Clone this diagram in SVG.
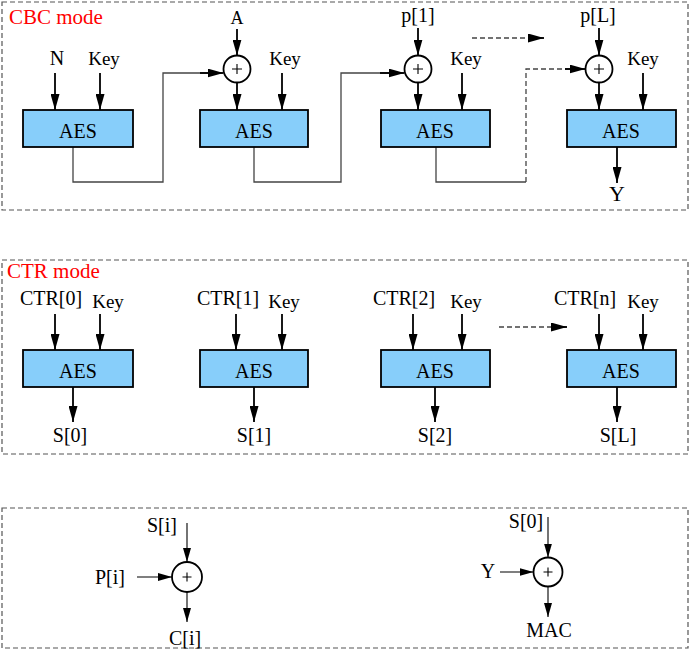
<svg xmlns="http://www.w3.org/2000/svg" width="691" height="660" viewBox="0 0 691 660">
<style>
text{font-family:"Liberation Serif","Times New Roman",serif;font-size:20px;fill:#000;text-anchor:middle}
.title{fill:#ff0000;text-anchor:start;font-size:21px}
.key{font-size:19px}
.frame{fill:none;stroke:#555;stroke-width:1.2;stroke-dasharray:5,3}
.aes{fill:#87cefa;stroke:#000;stroke-width:1.8}
.arr{fill:none;stroke:#000;stroke-width:1.8;marker-end:url(#ah)}
.arr2{fill:none;stroke:#000;stroke-width:1.1;marker-end:url(#ah2)}
.fb{fill:none;stroke:#444;stroke-width:1.3}
.fbd{fill:none;stroke:#444;stroke-width:1.3;stroke-dasharray:5,3}
.xor{fill:#fff;stroke:#000;stroke-width:1.8}
.plus{stroke:#000;stroke-width:1.1;fill:none}
</style>
<defs>
<marker id="ah" markerUnits="userSpaceOnUse" markerWidth="16" markerHeight="9" refX="16" refY="4.5" orient="auto"><path d="M0,0 L16,4.5 L0,9 z" fill="#000"/></marker>
<marker id="ah2" markerUnits="userSpaceOnUse" markerWidth="14" markerHeight="8" refX="14" refY="4" orient="auto"><path d="M0,0 L14,4 L0,8 z" fill="#000"/></marker>
</defs>

<g id="frames">
<rect class="frame" x="2" y="2" width="686" height="208"/>
<rect class="frame" x="2" y="260" width="686" height="194"/>
<rect class="frame" x="2" y="508" width="686" height="140"/>
<text class="title" x="9" y="24">CBC mode</text>
<text class="title" x="7" y="278">CTR mode</text>
</g>

<g id="connectors">
<!-- CBC -->
<line class="arr" x1="55" y1="73" x2="55" y2="110"/>
<line class="arr" x1="100" y1="73" x2="100" y2="110"/>
<polyline class="fb" points="73,147 73,182 163,182 163,73 210,73"/>
<line class="arr" x1="200" y1="73" x2="223.5" y2="73"/>
<line class="arr" x1="237" y1="29" x2="237" y2="55.5"/>
<line class="arr" x1="237" y1="82.5" x2="237" y2="110"/>
<line class="arr" x1="282" y1="73" x2="282" y2="110"/>
<polyline class="fb" points="254,147 254,182 341,182 341,73 390,73"/>
<line class="arr" x1="380" y1="73" x2="404.5" y2="73"/>
<line class="arr" x1="418" y1="28" x2="418" y2="55.5"/>
<line class="arr" x1="418" y1="82.5" x2="418" y2="110"/>
<line class="arr" x1="462" y1="73" x2="462" y2="110"/>
<polyline class="fb" points="436,147 436,182 526,182"/>
<polyline class="fbd" points="526,182 526,69 570,69"/>
<line class="arr" x1="565" y1="69" x2="585.5" y2="69"/>
<line class="fbd" x1="472" y1="38" x2="530" y2="38"/>
<line class="arr" x1="528" y1="38" x2="544" y2="38"/>
<line class="arr" x1="599" y1="28" x2="599" y2="55.5"/>
<line class="arr" x1="599" y1="82.5" x2="599" y2="110"/>
<line class="arr" x1="643" y1="73" x2="643" y2="110"/>
<line class="arr" x1="617" y1="147" x2="617" y2="183"/>
<!-- CTR -->
<line class="arr" x1="55" y1="314" x2="55" y2="350"/>
<line class="arr" x1="100" y1="314" x2="100" y2="350"/>
<line class="arr" x1="73" y1="387" x2="73" y2="422"/>
<line class="arr" x1="236" y1="314" x2="236" y2="350"/>
<line class="arr" x1="282" y1="314" x2="282" y2="350"/>
<line class="arr" x1="254" y1="387" x2="254" y2="422"/>
<line class="arr" x1="413" y1="314" x2="413" y2="350"/>
<line class="arr" x1="462" y1="314" x2="462" y2="350"/>
<line class="arr" x1="435" y1="387" x2="435" y2="422"/>
<line class="arr" x1="599" y1="314" x2="599" y2="350"/>
<line class="arr" x1="643" y1="314" x2="643" y2="350"/>
<line class="arr" x1="617" y1="387" x2="617" y2="422"/>
<line class="fbd" x1="499" y1="327" x2="555" y2="327"/>
<line class="arr" x1="552" y1="327" x2="567" y2="327"/>
<!-- bottom -->
<line class="arr2" x1="187" y1="523" x2="187" y2="562"/>
<line class="arr2" x1="137" y1="577" x2="172" y2="577"/>
<line class="arr2" x1="187" y1="592" x2="187" y2="622"/>
<line class="arr2" x1="548" y1="517" x2="548" y2="557.5"/>
<line class="arr2" x1="500" y1="572" x2="533.5" y2="572"/>
<line class="arr2" x1="548" y1="586.5" x2="548" y2="617"/>
</g>

<g id="cbc-inputs">
<text x="57" y="65">N</text>
<text class="key" x="104" y="65">Key</text>
<text x="237" y="24" style="font-size:18px">A</text>
<text class="key" x="285" y="65">Key</text>
<text x="418" y="22">p[1]</text>
<text class="key" x="466" y="65">Key</text>
<text x="598" y="22">p[L]</text>
<text class="key" x="643" y="65">Key</text>
<text x="617" y="201" style="font-size:22px">Y</text>
</g>

<g id="cbc-aes1"><rect class="aes" x="23" y="110" width="110" height="37"/><text x="78" y="138">AES</text></g>
<g id="cbc-aes2"><rect class="aes" x="200" y="110" width="108" height="37"/><text x="254" y="138">AES</text></g>
<g id="cbc-aes3"><rect class="aes" x="381" y="110" width="109" height="37"/><text x="435" y="138">AES</text></g>
<g id="cbc-aes4"><rect class="aes" x="567" y="110" width="109" height="37"/><text x="621" y="138">AES</text></g>

<g id="cbc-xor1"><circle class="xor" cx="237" cy="69" r="13.5"/><path class="plus" d="M232,69 H242 M237,64 V74"/></g>
<g id="cbc-xor2"><circle class="xor" cx="418" cy="69" r="13.5"/><path class="plus" d="M413,69 H423 M418,64 V74"/></g>
<g id="cbc-xor3"><circle class="xor" cx="599" cy="69" r="13.5"/><path class="plus" d="M594,69 H604 M599,64 V74"/></g>

<g id="ctr-aes1"><rect class="aes" x="23" y="350" width="110" height="37"/><text x="78" y="378">AES</text>
<text x="51" y="305">CTR[0]</text><text class="key" x="108" y="308">Key</text><text x="70" y="442">S[0]</text></g>
<g id="ctr-aes2"><rect class="aes" x="200" y="350" width="108" height="37"/><text x="254" y="378">AES</text>
<text x="228" y="305">CTR[1]</text><text class="key" x="284" y="308">Key</text><text x="254" y="442">S[1]</text></g>
<g id="ctr-aes3"><rect class="aes" x="381" y="350" width="109" height="37"/><text x="435" y="378">AES</text>
<text x="404" y="305">CTR[2]</text><text class="key" x="466" y="308">Key</text><text x="435" y="442">S[2]</text></g>
<g id="ctr-aes4"><rect class="aes" x="567" y="350" width="109" height="37"/><text x="621" y="378">AES</text>
<text x="585" y="305">CTR[n]</text><text class="key" x="643" y="308">Key</text><text x="618" y="442">S[L]</text></g>

<g id="enc-xor"><circle class="xor" cx="187" cy="577" r="15"/><path class="plus" d="M182.5,577 H191.5 M187,572.5 V581.5"/>
<text x="162" y="532">S[i]</text><text x="110" y="584">P[i]</text><text x="185" y="645">C[i]</text></g>
<g id="mac-xor"><circle class="xor" cx="548" cy="572" r="14.5"/><path class="plus" d="M543.5,572 H552.5 M548,567.5 V576.5"/>
<text x="526" y="528">S[0]</text><text x="488" y="578">Y</text><text x="549" y="637">MAC</text></g>
</svg>
